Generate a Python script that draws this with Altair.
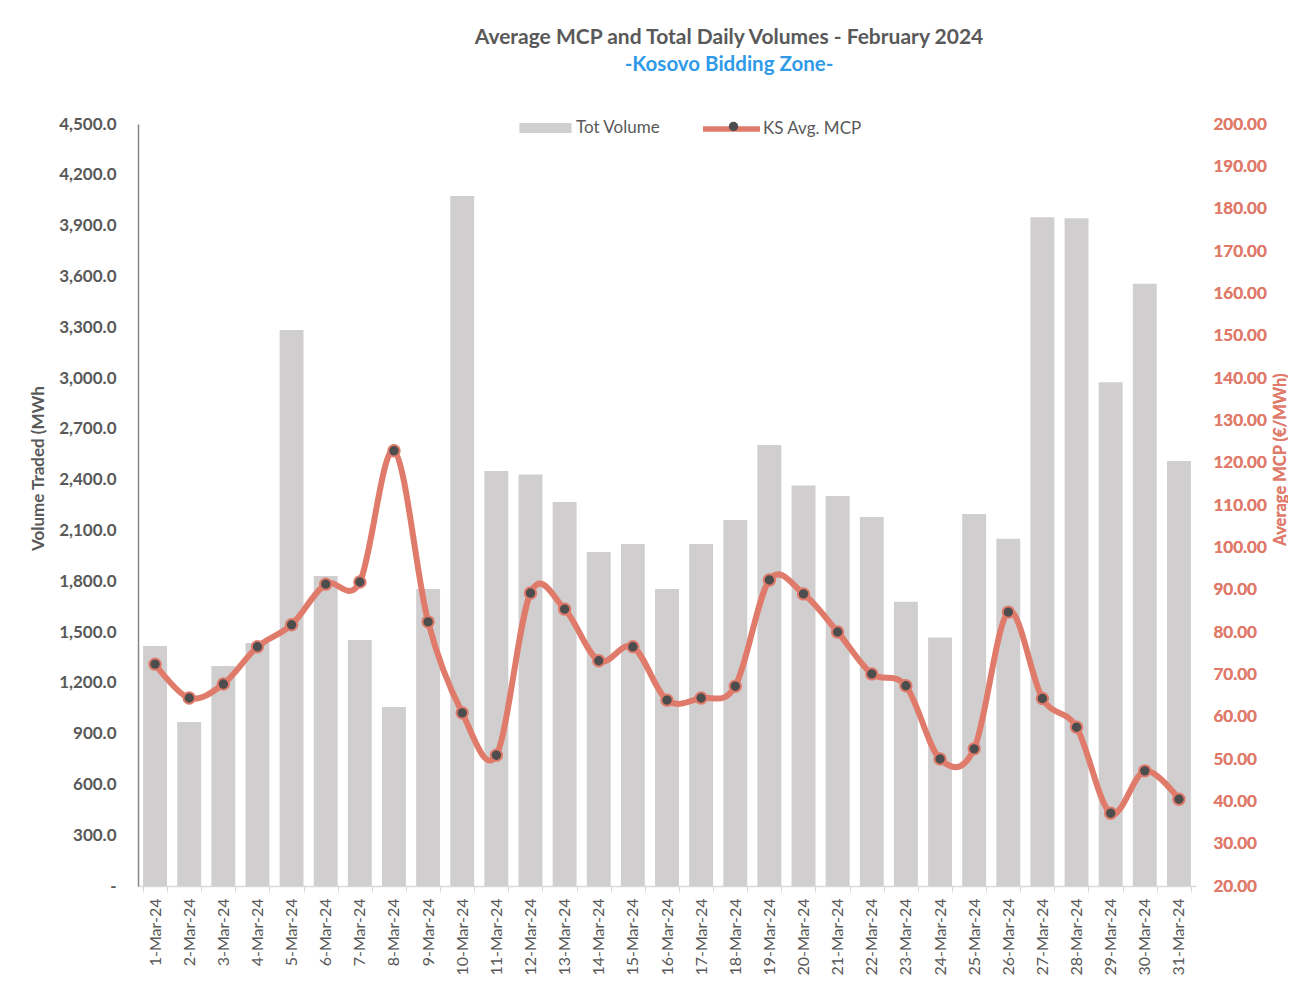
import altair as alt
import pandas as pd

dates = ["1-Mar-24", "2-Mar-24", "3-Mar-24", "4-Mar-24", "5-Mar-24", "6-Mar-24", "7-Mar-24",
         "8-Mar-24", "9-Mar-24", "10-Mar-24", "11-Mar-24", "12-Mar-24", "13-Mar-24", "14-Mar-24",
         "15-Mar-24", "16-Mar-24", "17-Mar-24", "18-Mar-24", "19-Mar-24", "20-Mar-24", "21-Mar-24",
         "22-Mar-24", "23-Mar-24", "24-Mar-24", "25-Mar-24", "26-Mar-24", "27-Mar-24", "28-Mar-24",
         "29-Mar-24", "30-Mar-24", "31-Mar-24"]
volumes = [1417, 969, 1299, 1435, 3284, 1831, 1453, 1057, 1754, 4075, 2451, 2430, 2268, 1972,
           2020, 1754, 2020, 2161, 2604, 2365, 2303, 2179, 1679, 1467, 2197, 2050, 3950, 3944,
           2975, 3557, 2510]
mcp = [72.4, 64.4, 67.7, 76.5, 81.7, 91.3, 91.8, 122.8, 82.4, 60.9, 50.9, 89.2, 85.4, 73.2,
       76.5, 63.9, 64.4, 67.2, 92.3, 89.0, 80.0, 70.1, 67.3, 50.0, 52.4, 84.7, 64.3, 57.5,
       37.2, 47.2, 40.5]

vol_ticks = [0, 300, 600, 900, 1200, 1500, 1800, 2100, 2400, 2700, 3000, 3300, 3600, 3900, 4200, 4500]
mcp_ticks = [20, 30, 40, 50, 60, 70, 80, 90, 100, 110, 120, 130, 140, 150, 160, 170, 180, 190, 200]

df = pd.DataFrame({"date": dates, "volume": volumes, "mcp": mcp})

FONT = "Lato"
GRAY = "#595959"
SALMON = "#E07B6B"
BAR = "#D0CECF"
DOT = "#4D4D4D"

x_enc = alt.X(
    "date:N", sort=dates, title=None,
    scale=alt.Scale(paddingInner=0.3, paddingOuter=0.15),
    axis=alt.Axis(labelAngle=-90, labelFontSize=16, labelColor=GRAY, labelFont=FONT,
                  labelPadding=6, tickBand="extent", tickSize=6, tickColor="#D9D9D9",
                  domainColor="#D9D9D9", domainWidth=1.5, grid=False),
)

bars = alt.Chart(df).transform_calculate(s="'Tot Volume'").mark_bar(color=BAR).encode(
    x=x_enc,
    y=alt.Y("volume:Q", title="Volume Traded (MWh",
            scale=alt.Scale(domain=[0, 4500], nice=False, zero=True),
            axis=alt.Axis(values=vol_ticks, grid=False, ticks=False, labelPadding=22,
                          labelExpr="datum.value == 0 ? '-' : format(datum.value, ',.1f')",
                          labelFontSize=17, labelFontWeight="bold", labelColor=GRAY, labelFont=FONT,
                          domainColor="#868686", domainWidth=1.5,
                          titleFontSize=17, titleFontWeight="bold", titleColor=GRAY, titleFont=FONT,
                          titleX=-100, titleY=344, titleAngle=270, titleAlign="center",
                          titleBaseline="middle")),
    fill=alt.Fill("s:N", scale=alt.Scale(domain=["Tot Volume"], range=[BAR]),
                  legend=alt.Legend(title=None, orient="none", legendX=399, legendY=-4.5,
                                    symbolType="M-5.2,-1H5.2V1H-5.2Z", symbolSize=100,
                                    symbolStrokeWidth=0, labelFontSize=17, labelColor=GRAY,
                                    labelFont=FONT, labelOffset=22, padding=0)),
)

y2 = alt.Y("mcp:Q", title="Average MCP (€/MWh)",
           scale=alt.Scale(domain=[20, 200], nice=False, zero=False),
           axis=alt.Axis(orient="right", values=mcp_ticks, grid=False, ticks=False, domain=False,
                         labelPadding=17, format=".2f",
                         labelFontSize=17, labelFontWeight="bold", labelColor=SALMON, labelFont=FONT,
                         titleFontSize=16.5, titleFontWeight="bold", titleColor=SALMON, titleFont=FONT,
                         titleX=84, titleY=335, titleAngle=270, titleAlign="center",
                         titleBaseline="middle"))

line = alt.Chart(df).transform_calculate(s="'KS Avg. MCP'").mark_line(
    interpolate="cardinal", strokeWidth=6, color=SALMON
).encode(
    x=x_enc,
    y=y2,
    stroke=alt.Stroke("s:N", scale=alt.Scale(domain=["KS Avg. MCP"], range=[SALMON]),
                      legend=alt.Legend(title=None, orient="none", legendX=581, legendY=-7.5,
                                        symbolType="M-3,0H3", symbolSize=361,
                                        symbolStrokeWidth=5.5,
                                        labelFontSize=17, labelColor=GRAY, labelFont=FONT,
                                        labelOffset=19, padding=0)),
)

points = alt.Chart(df).transform_calculate(d="'marker'").mark_point(
    filled=True, fill=DOT, stroke=SALMON, strokeWidth=2, size=130, opacity=1
).encode(
    x=x_enc,
    y=y2,
    shape=alt.Shape("d:N", scale=alt.Scale(domain=["marker"], range=["circle"]),
                    legend=alt.Legend(title=None, orient="none", legendX=587, legendY=-6,
                                      symbolSize=90, symbolFillColor=DOT, symbolStrokeColor=SALMON,
                                      symbolStrokeWidth=1.5, labelExpr="''",
                                      labelFontSize=17, padding=0)),
)

chart = alt.layer(bars, line, points).resolve_scale(y="independent").properties(
    width=1058, height=762,
    background="white",
    autosize=alt.AutoSizeParams(type="none"),
    padding={"left": 130, "top": 116, "right": 92, "bottom": 100},
    title=alt.TitleParams(
        text="Average MCP and Total Daily Volumes - February 2024",
        subtitle="-Kosovo Bidding Zone-",
        anchor="middle", frame="group", dx=62, offset=40,
        font=FONT, fontSize=21, fontWeight="bold", color=GRAY,
        subtitleFont=FONT, subtitleFontSize=20.5, subtitleFontWeight="bold",
        subtitleColor="#2F9BE8", subtitlePadding=7,
    ),
).configure_view(stroke=None)

chart.save("out.html", embed_options={"renderer": "svg", "actions": False})
